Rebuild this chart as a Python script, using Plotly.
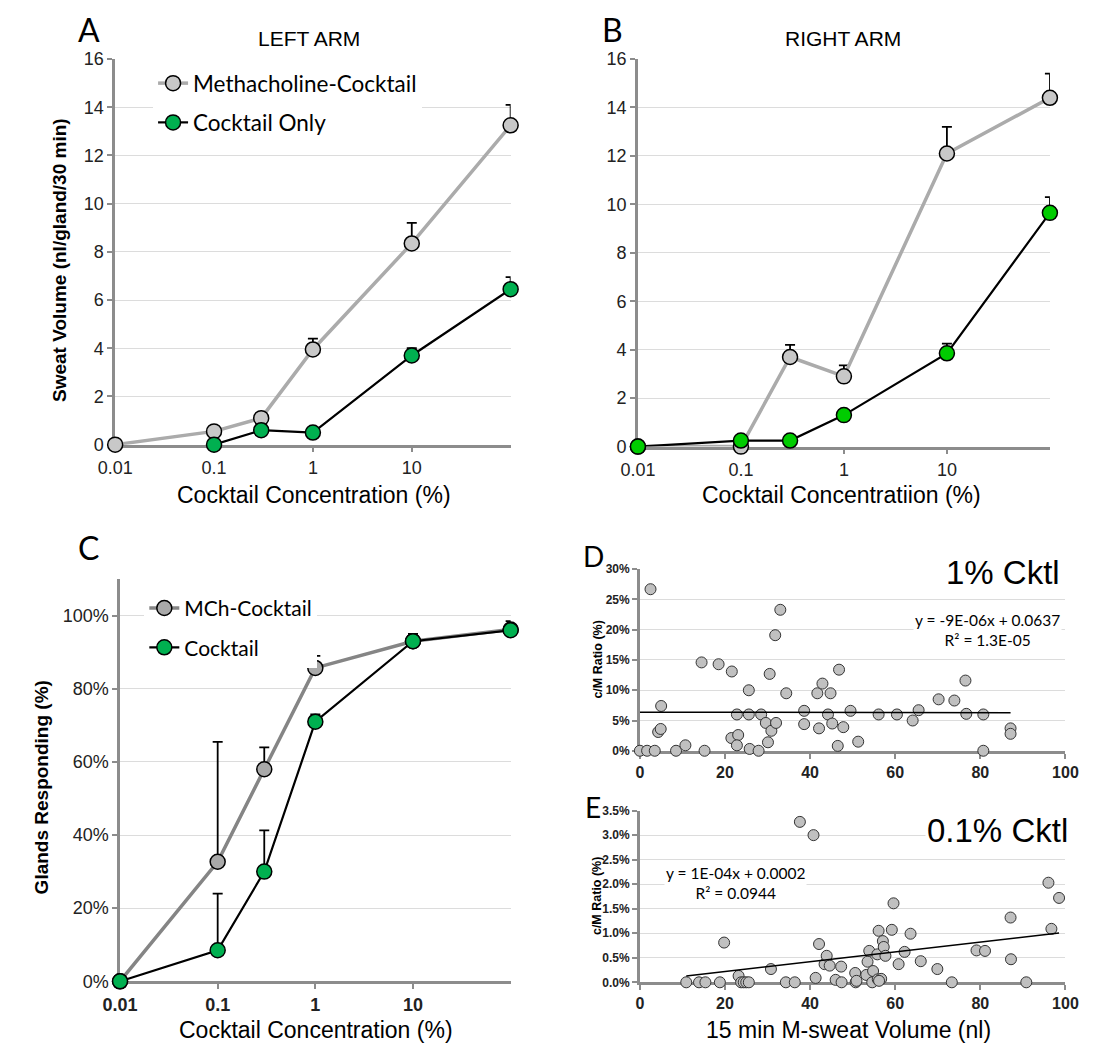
import plotly.graph_objects as go

W, H = 1094, 1060
def fx(p): return p / W
def fy(p): return 1 - p / H

# ---------------- data ----------------
conc = [0.01, 0.1, 0.3, 1, 10, 100]
conc_ticks = [0.01, 0.1, 1, 10]
conc_ticktext = ["0.01", "0.1", "1", "10"]

# Panel A (left arm)
A_mch = [0, 0.55, 1.1, 3.95, 8.35, 13.25]
A_mch_err = [0, 0, 0, 0.45, 0.85, 0.85]
A_ck_conc = [0.1, 0.3, 1, 10, 100]
A_ck = [0, 0.6, 0.5, 3.7, 6.45]
A_ck_err = [0, 0, 0, 0.3, 0.5]

# Panel B (right arm)
B_mch = [0, 0, 3.7, 2.9, 12.1, 14.4]
B_mch_err = [0, 0, 0.5, 0.45, 1.1, 1.0]
B_ck = [0, 0.25, 0.25, 1.3, 3.85, 9.65]
B_ck_err = [0, 0, 0, 0, 0.4, 0.65]

# Panel C (glands responding)
C_mch = [0, 0.327, 0.58, 0.857, 0.93, 0.962]
C_mch_err = [0, 0.328, 0.06, 0.033, 0.02, 0.023]
C_ck = [0, 0.085, 0.30, 0.71, 0.93, 0.96]
C_ck_err = [0, 0.155, 0.113, 0.02, 0.015, 0.015]

# Panel D (1% cocktail) : M-sweat volume (nl) vs c/M ratio (%)
D_x = [0, 1.7, 3.5, 2.5, 4.3, 4.9, 5.0, 8.5, 10.7, 14.5, 15.2, 18.5, 21.6, 21.5, 22.8,
       23.1, 22.8, 25.6, 25.6, 25.8, 27.9, 28.5, 29.6, 30.1, 30.5, 30.9, 31.8, 32.0, 33.0,
       34.4, 38.6, 38.6, 41.7, 42.1, 42.9, 44.2, 44.8, 45.2, 46.5, 46.8, 47.8, 49.5, 51.3,
       56.1, 60.4, 64.1, 65.5, 70.2, 73.9, 76.5, 76.7, 80.7, 80.7, 87.1, 87.1]
D_y = [0, 0, 0, 26.7, 3.1, 3.6, 7.4, 0, 0.9, 14.6, 0, 14.3, 13.1, 2.1, 6.0,
       2.6, 0.9, 10.0, 6.0, 0.3, 0, 6.0, 4.6, 1.4, 12.7, 3.3, 19.1, 4.6, 23.3,
       9.5, 6.6, 4.4, 9.5, 3.7, 11.1, 6.0, 9.5, 4.5, 0.8, 13.4, 3.9, 6.6, 1.5,
       6.0, 6.0, 5.0, 6.7, 8.5, 8.3, 11.6, 6.1, 6.0, 0, 3.7, 2.8]
D_slope, D_int = -9e-06, 0.0637

# Panel E (0.1% cocktail)
E_x = [10.9, 13.9, 15.4, 18.8, 19.8, 23.2, 23.8, 24.4, 25.0, 25.6, 30.8, 34.3, 36.4,
       37.6, 40.8, 41.3, 42.1, 43.4, 43.9, 44.6, 46.0, 47.3, 47.4, 50.6, 50.7, 50.9,
       53.2, 53.5, 53.9, 54.8, 54.6, 55.8, 56.1, 55.9, 56.7, 56.2, 57.1, 57.3, 57.7,
       59.2, 59.6, 60.8, 62.2, 63.6, 66.0, 69.9, 73.3, 79.1, 81.1, 87.1, 87.2, 90.8,
       96.0, 96.7, 98.5]
E_y = [0, 0, 0, 0, 0.81, 0.13, 0, 0, 0, 0, 0.27, 0, 0,
       3.27, 3.0, 0.09, 0.78, 0.37, 0.54, 0.34, 0.05, 0.32, 0, 0.19, 0, 0.03,
       0.15, 0.42, 0.64, 0.23, 0, 0.57, 1.05, 0.06, 0.07, 0.03, 0.84, 0.72, 0.54,
       1.07, 1.61, 0.37, 0.62, 0.99, 0.43, 0.27, 0, 0.65, 0.64, 1.32, 0.47, 0,
       2.03, 1.09, 1.72]
E_slope, E_int = 1e-04, 0.0002

# ---------------- styles ----------------
GRAY_MK = "#c8c8c8"
GRAY_LN = "#ababab"
GREEN_A = "#00b050"
GREEN_B = "#00cc00"
AXC = "#8c8c8c"
GRID = "#dcdcdc"
ARIAL = "Liberation Sans"
CAL = "Lato"

fig = go.Figure()

def series(x, y, err, xa, ya, lc, lw, mc, name, legend="legend", show=False):
    fig.add_trace(go.Scatter(
        x=x, y=y, mode="lines+markers", name=name,
        line=dict(color=lc, width=lw),
        marker=dict(size=15, color=mc, line=dict(color="black", width=1.5)),
        error_y=dict(type="data", array=err, arrayminus=[0] * len(err), symmetric=False,
                     color="black", thickness=1.8, width=5),
        xaxis=xa, yaxis=ya, cliponaxis=False, showlegend=show, legend=legend,
        legendgroup=name + legend))

# A
series(conc, A_mch, A_mch_err, "x", "y", GRAY_LN, 3.5, GRAY_MK, "Methacholine-Cocktail", "legend", True)
series(A_ck_conc, A_ck, A_ck_err, "x", "y", "black", 2.2, GREEN_A, "Cocktail Only", "legend", True)
# B
series(conc, B_mch, B_mch_err, "x2", "y2", GRAY_LN, 3.5, GRAY_MK, "Methacholine-Cocktail")
series(conc, B_ck, B_ck_err, "x2", "y2", "black", 2.2, GREEN_B, "Cocktail Only")
# C
series(conc, C_mch, C_mch_err, "x3", "y3", "#858585", 3.5, "#a9a9a9", "MCh-Cocktail", "legend2", True)
series(conc, C_ck, C_ck_err, "x3", "y3", "black", 2.2, GREEN_A, "Cocktail", "legend2", True)

# D
fig.add_trace(go.Scatter(x=D_x, y=[v / 100 for v in D_y], mode="markers",
                         marker=dict(size=11, color="#c0c0c0", line=dict(color="#333", width=1)),
                         xaxis="x4", yaxis="y4", cliponaxis=False, showlegend=False))
dxl = [min(D_x), max(D_x)]
fig.add_trace(go.Scatter(x=dxl, y=[D_slope * v + D_int for v in dxl], mode="lines",
                         line=dict(color="black", width=1.5), xaxis="x4", yaxis="y4", showlegend=False))
# E
fig.add_trace(go.Scatter(x=E_x, y=[v / 100 for v in E_y], mode="markers",
                         marker=dict(size=11, color="#c0c0c0", line=dict(color="#333", width=1)),
                         xaxis="x5", yaxis="y5", cliponaxis=False, showlegend=False))
exl = [min(E_x), max(E_x)]
fig.add_trace(go.Scatter(x=exl, y=[E_slope * v + E_int for v in exl], mode="lines",
                         line=dict(color="black", width=1.5), xaxis="x5", yaxis="y5", showlegend=False))

def xax(dom, anchor, log=True, bold=False, size=18, **kw):
    d = dict(domain=dom, anchor=anchor, showline=True, linecolor=AXC, linewidth=2.5,
             showgrid=False, zeroline=False, ticks="outside", ticklen=5, tickcolor=AXC,
             tickwidth=1.5, layer="below traces",
             tickfont=dict(family=ARIAL, size=size, color="#222",
                           weight="bold" if bold else "normal"))
    if log:
        d.update(type="log", range=[-2, 2], tickvals=conc_ticks, ticktext=conc_ticktext)
    d.update(kw)
    return d

def yax(dom, anchor, rng, dtick, fmt=None, size=18, bold=False):
    d = dict(domain=dom, anchor=anchor, range=rng, dtick=dtick, showline=True,
             linecolor=AXC, linewidth=2.5, showgrid=True, gridcolor=GRID, gridwidth=1.2,
             zeroline=False, ticks="outside", ticklen=5, tickcolor=AXC, tickwidth=1.5,
             layer="below traces",
             tickfont=dict(family=ARIAL, size=size, color="#222",
                           weight="bold" if bold else "normal"))
    if fmt:
        d["tickformat"] = fmt
    return d

fig.update_layout(
    width=W, height=H, margin=dict(l=0, r=0, t=0, b=0),
    paper_bgcolor="white", plot_bgcolor="white",
    xaxis=xax([fx(100), fx(507)], "y"),
    yaxis=yax([fy(443), fy(50)], "x", [0, 16], 2),
    xaxis2=xax([fx(638), fx(1062)], "y2"),
    yaxis2=yax([fy(445), fy(50)], "x2", [0, 16], 2),
    xaxis3=xax([fx(105), fx(507)], "y3", bold=True),
    yaxis3=yax([fy(990), fy(580)], "x3", [0, 1.1], 0.2, ".0%"),
    xaxis4=xax([fx(640), fx(1078)], "y4", log=False, bold=True, size=16,
               range=[0, 100], dtick=20),
    yaxis4=yax([fy(755), fy(570)], "x4", [0, 0.30], 0.05, ".0%", size=12, bold=True),
    xaxis5=xax([fx(640), fx(1078)], "y5", log=False, bold=True, size=16,
               range=[0, 100], dtick=20),
    yaxis5=yax([fy(991), fy(816)], "x5", [0, 0.035], 0.005, ".1%", size=12, bold=True),
    legend=dict(x=fx(139), y=fy(53), xanchor="left", yanchor="top", bgcolor="white",
                font=dict(family=CAL, size=22.5, color="black"), tracegroupgap=7,
                traceorder="grouped"),
    legend2=dict(x=fx(130), y=fy(589), xanchor="left", yanchor="top", bgcolor="white",
                 font=dict(family=CAL, size=21, color="black"), tracegroupgap=9,
                 traceorder="grouped"),
)

def ann(text, x, y, size, family=ARIAL, bold=False, angle=0, bg=None):
    fig.add_annotation(text=text, x=fx(x), y=fy(y), xref="paper", yref="paper",
                       xanchor="center", yanchor="middle",
                       showarrow=False, textangle=angle, align="center",
                       bgcolor=bg, font=dict(family=family, size=size, color="black",
                                             weight="bold" if bold else "normal"))

# panel letters
ann("A", 73, 20, 32, CAL)
ann("B", 612, 20, 32, CAL)
ann("C", 73, 548, 32, CAL)
ann("D", 592, 556, 28, CAL)
ann("E", 592, 812, 28, CAL)
# titles
ann("LEFT ARM", 300, 29, 21)
ann("RIGHT ARM", 849, 29, 21)
ann("Cocktail Concentration (%)", 305, 494, 23)
ann("Cocktail Concentratiion (%)", 848, 494, 23)
ann("Cocktail Concentration (%)", 307, 1040, 23)
ann("15 min M-sweat Volume (nl)", 855, 1040, 23)
ann("Sweat Volume (nl/gland/30 min)", 42, 255, 19, bold=True, angle=-90)
ann("Glands Responding (%)", 24, 792, 19, bold=True, angle=-90)
ann("c/M Ratio (%)", 596, 662, 12.5, bold=True, angle=-90)
ann("c/M Ratio (%)", 596, 903, 12.5, bold=True, angle=-90)
ann("1% Cktl", 1014, 573, 33, bg="white")
ann("0.1% Cktl", 1008, 836, 33, bg="white")
ann("y = -9E-06x + 0.0637<br>R² = 1.3E-05", 998, 632, 15.5, CAL, bg="white")
ann("y = 1E-04x + 0.0002<br>R² = 0.0944", 738, 890, 15.5, CAL, bg="white")

fig.write_html("out.html")
